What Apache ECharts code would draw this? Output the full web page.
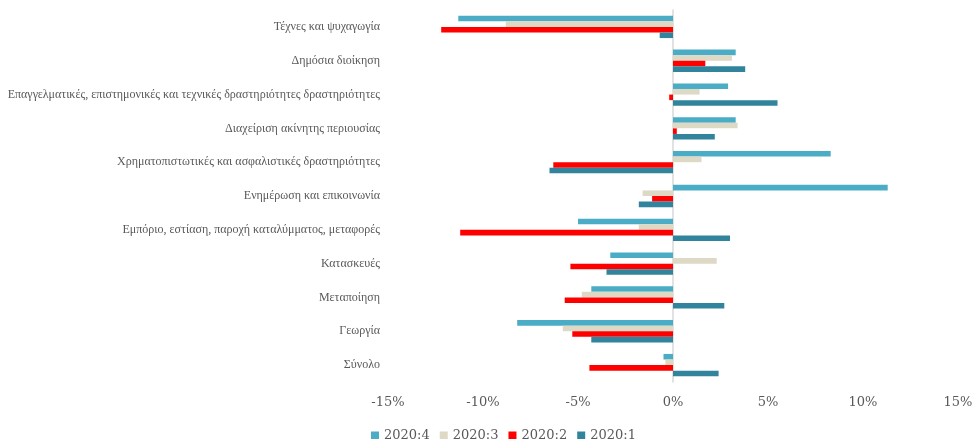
<!DOCTYPE html>
<html><head><meta charset="utf-8">
<script src="https://cdn.jsdelivr.net/npm/echarts@6/dist/echarts.min.js"></script>
<style>html,body{margin:0;padding:0;background:#fff}#c{width:972px;height:439px}</style>
</head><body><div id="c"></div>
<script>
const categories = [
  "Τέχνες και ψυχαγωγία",
  "Δημόσια διοίκηση",
  "Επαγγελματικές, επιστημονικές και τεχνικές δραστηριότητες δραστηριότητες",
  "Διαχείριση ακίνητης περιουσίας",
  "Χρηματοπιστωτικές και ασφαλιστικές δραστηριότητες",
  "Ενημέρωση και επικοινωνία",
  "Εμπόριο, εστίαση, παροχή καταλύμματος, μεταφορές",
  "Κατασκευές",
  "Μεταποίηση",
  "Γεωργία",
  "Σύνολο"
];
const q4 = [-11.3, 3.3, 2.9, 3.3, 8.3, 11.3, -5.0, -3.3, -4.3, -8.2, -0.5];
const q3 = [-8.8, 3.1, 1.4, 3.4, 1.5, -1.6, -1.8, 2.3, -4.8, -5.8, -0.4];
const q2 = [-12.2, 1.7, -0.2, 0.2, -6.3, -1.1, -11.2, -5.4, -5.7, -5.3, -4.4];
const q1 = [-0.7, 3.8, 5.5, 2.2, -6.5, -1.8, 3.0, -3.5, 2.7, -4.3, 2.4];
const seriesNames = ["2020:4", "2020:3", "2020:2", "2020:1"];
const colors = ["#4BACC6", "#DDD9C4", "#FF0000", "#31849B"];
const xTicks = [-15, -10, -5, 0, 5, 10, 15];

const font = "'DejaVu Serif', 'Liberation Serif', serif";
const catFont = "'Liberation Serif', serif";
const chart = echarts.init(document.getElementById('c'));
const dataSets = [q4, q3, q2, q1];
chart.setOption({
  animation: false,
  textStyle: { fontFamily: font },
  grid: { left: 388, right: 14, top: 10, bottom: 57, containLabel: false, outerBoundsMode: 'none' },
  legend: {
    top: 424, left: 366,
    itemWidth: 8, itemHeight: 8, itemGap: 10,
    icon: 'rect',
    textStyle: { color: '#595959', fontSize: 13, fontFamily: font },
    data: seriesNames
  },
  xAxis: {
    type: 'value', min: xTicks[0], max: xTicks[xTicks.length - 1], interval: 5,
    axisLabel: { formatter: v => v + '%', color: '#595959', fontSize: 13, margin: 14, fontFamily: font },
    splitLine: { show: false },
    axisLine: { show: false },
    axisTick: { show: false }
  },
  yAxis: {
    type: 'category', data: categories, inverse: true,
    axisLine: { show: true, onZero: true, lineStyle: { color: '#D9D9D9', width: 1.5 } },
    axisTick: { show: false },
    axisLabel: { color: '#595959', fontSize: 12, margin: 8, fontFamily: catFont }
  },
  series: seriesNames.map((n, i) => ({
    name: n, type: 'bar', data: dataSets[i],
    barGap: '0%', barCategoryGap: '34%',
    itemStyle: { color: colors[i] }
  }))
});
</script></body></html>
